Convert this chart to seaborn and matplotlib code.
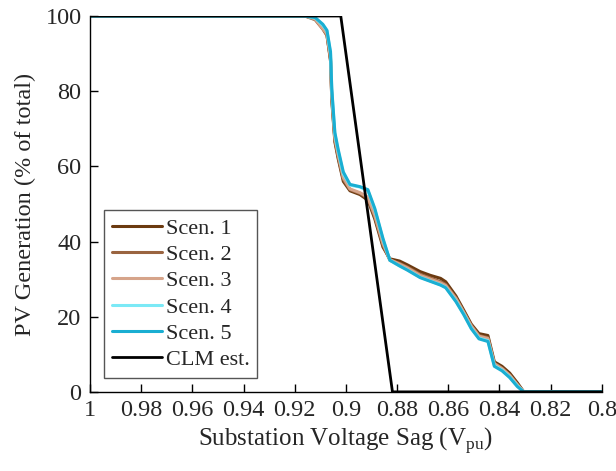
import matplotlib
matplotlib.use("Agg")
import matplotlib.pyplot as plt
import seaborn as sns
import pandas as pd

# ---- data ----
scen_names = ["Scen. 1", "Scen. 2", "Scen. 3", "Scen. 4", "Scen. 5"]

base_v = [1.0, 0.916, 0.912, 0.909, 0.9074, 0.906, 0.9055, 0.9043, 0.903, 0.901,
          0.8984, 0.8945, 0.8914, 0.8887, 0.8855, 0.8828, 0.879, 0.876, 0.871,
          0.867, 0.863, 0.861, 0.857, 0.854, 0.851, 0.848, 0.8445, 0.842, 0.839,
          0.836, 0.833, 0.8305, 0.8]

scen1_pv = [100, 100, 99.3, 96.8, 95.0, 88.0, 77.5, 66.5, 62.0, 56.0,
            53.5, 52.5, 51.0, 46.0, 38.5, 35.4, 34.8, 33.8, 32.0,
            31.0, 30.2, 29.3, 25.5, 21.8, 18.0, 15.5, 15.0, 8.0, 6.8,
            5.0, 2.4, 0, 0]
scen2_pv = [100, 100, 99.0, 96.5, 94.8, 88.5, 78.0, 67.0, 62.5, 56.5,
            53.8, 52.8, 51.5, 46.5, 39.0, 35.0, 34.2, 33.2, 31.3,
            30.3, 29.3, 28.6, 25.0, 21.4, 17.7, 15.0, 14.4, 7.6, 6.3,
            4.5, 2.0, 0, 0]
scen3_pv = [100, 100, 99.2, 96.6, 95.2, 88.8, 78.5, 67.5, 63.0, 57.0,
            54.0, 53.0, 51.8, 47.0, 39.5, 35.2, 34.0, 33.0, 31.0,
            30.0, 29.0, 28.3, 24.8, 21.2, 17.5, 14.8, 14.2, 7.5, 6.2,
            4.4, 1.9, 0, 0]
scen4_pv = [100, 100, 99.5, 97.5, 96.0, 90.0, 80.0, 68.5, 64.0, 58.0,
            55.0, 54.5, 53.5, 48.5, 40.5, 35.0, 33.5, 32.5, 30.5,
            29.5, 28.5, 27.8, 24.2, 20.8, 17.0, 14.3, 13.6, 7.0, 5.8,
            4.0, 1.6, 0, 0]
scen5_pv = [100, 100, 99.6, 97.8, 96.2, 90.5, 80.5, 69.0, 64.5, 58.5,
            55.2, 54.6, 53.8, 48.8, 40.8, 35.0, 33.5, 32.4, 30.4,
            29.4, 28.4, 27.7, 24.0, 20.6, 16.8, 14.1, 13.4, 6.8, 5.6,
            3.8, 1.4, 0, 0]
scen_pv = [scen1_pv, scen2_pv, scen3_pv, scen4_pv, scen5_pv]

clm_v = [1.0, 0.902, 0.8818, 0.8]
clm_pv = [100, 100, 0, 0]

x_ticks = [1, 0.98, 0.96, 0.94, 0.92, 0.9, 0.88, 0.86, 0.84, 0.82, 0.8]
x_ticklabels = ["1", "0.98", "0.96", "0.94", "0.92", "0.9", "0.88", "0.86", "0.84", "0.82", "0.8"]
y_ticks = [0, 20, 40, 60, 80, 100]

colors = ["#6b3a10", "#9a6440", "#d6a48a", "#7be9f6", "#1aaed2"]

# ---- plotting ----
sns.set_theme(style="ticks")
plt.rcParams["font.family"] = ["Liberation Serif", "DejaVu Serif"]
plt.rcParams["mathtext.fontset"] = "custom"
plt.rcParams["mathtext.rm"] = "Liberation Serif"

fig = plt.figure(figsize=(6.16, 4.71), dpi=100)
ax = fig.add_axes([0.146, 0.168, 0.831, 0.798])

for name, vals, c in zip(scen_names, scen_pv, colors):
    df = pd.DataFrame({"v": base_v, "pv": vals})
    sns.lineplot(data=df, x="v", y="pv", ax=ax, color=c, linewidth=2.2,
                 label=name, sort=False, estimator=None)

df_clm = pd.DataFrame({"v": clm_v, "pv": clm_pv})
sns.lineplot(data=df_clm, x="v", y="pv", ax=ax, color="black", linewidth=2.0,
             label="CLM est.", sort=False, estimator=None)

ax.set_xlim(1.0, 0.8)
ax.set_ylim(0, 100)
ax.set_xticks(x_ticks)
ax.set_xticklabels(x_ticklabels)
ax.set_yticks(y_ticks)
ax.tick_params(direction="in", length=6, width=1.0, labelsize=17.5,
               labelcolor="#262626", color="black", pad=6,
               bottom=True, left=True, top=False, right=False)

for s in ["top", "right"]:
    ax.spines[s].set_visible(False)
for s in ["left", "bottom"]:
    ax.spines[s].set_color("black")
    ax.spines[s].set_linewidth(1.0)

ax.set_xlabel(r"Substation Voltage Sag (V$_{\mathrm{pu}}$)", fontsize=18,
              color="#262626", labelpad=3)
ax.set_ylabel("PV Generation (% of total)", fontsize=17.5, color="#262626",
              labelpad=7)

leg = ax.legend(loc="lower left", bbox_to_anchor=(0.027, 0.037), fontsize=16,
                frameon=True, fancybox=False, framealpha=1, edgecolor="#555555",
                handlelength=2.25, handletextpad=0.18, borderpad=0.35,
                labelspacing=0.26, borderaxespad=0)
leg.get_frame().set_linewidth(1.0)
for t in leg.get_texts():
    t.set_color("#262626")

fig.savefig("out.png", dpi=100)
